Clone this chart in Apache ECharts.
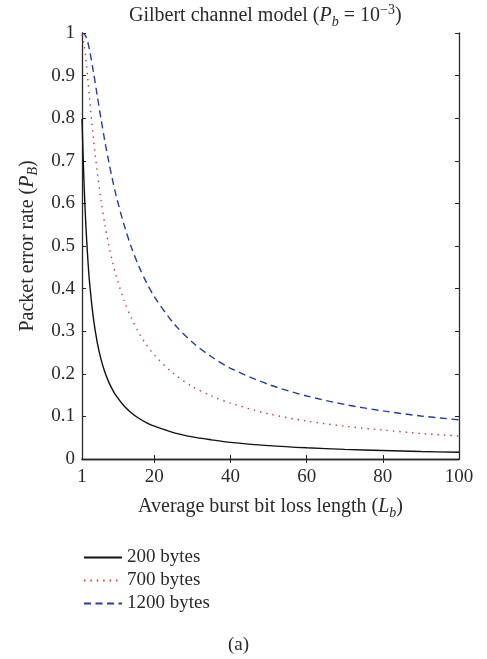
<!DOCTYPE html>
<html>
<head>
<meta charset="utf-8">
<script src="https://cdn.jsdelivr.net/npm/echarts@6/dist/echarts.min.js"></script>
<style>html,body{margin:0;padding:0;background:#fff}#c{width:487px;height:659px}</style>
</head>
<body>
<div id="c"></div>
<script>
const burstLength = [1, 1.5, 2, 2.5, 3, 4, 5, 6, 7, 8, 9, 10, 12, 14, 16, 18, 20, 25, 30, 35, 40, 50, 60, 70, 80, 90, 100];
const bytes200 = [0.798, 0.656, 0.551, 0.473, 0.413, 0.330, 0.274, 0.234, 0.204, 0.181, 0.163, 0.148, 0.125, 0.108, 0.095, 0.085, 0.077, 0.062, 0.052, 0.045, 0.039, 0.0315, 0.0263, 0.0226, 0.0198, 0.0176, 0.0159];
const bytes700 = [0.996, 0.976, 0.939, 0.894, 0.845, 0.753, 0.674, 0.607, 0.551, 0.503, 0.463, 0.429, 0.373, 0.330, 0.295, 0.267, 0.244, 0.201, 0.170, 0.148, 0.131, 0.106, 0.089, 0.077, 0.068, 0.060, 0.054];
const bytes1200 = [1.000, 0.998, 0.992, 0.979, 0.959, 0.909, 0.853, 0.798, 0.746, 0.699, 0.656, 0.617, 0.551, 0.496, 0.451, 0.413, 0.381, 0.319, 0.274, 0.240, 0.213, 0.175, 0.148, 0.128, 0.113, 0.101, 0.092];
const seriesNames = ['200 bytes', '700 bytes', '1200 bytes'];
const xTickLabels = [1, 20, 40, 60, 80, 100];
const xInnerTicks = [20, 40, 60, 80];

const FONT = 'Liberation Serif';
const TXT = '#2a2a2a';
const FS = 19;
const NFS = 20;
const rich = {
  n: { fontFamily: FONT, fontSize: NFS, color: TXT, lineHeight: 26 },
  i: { fontFamily: FONT, fontSize: NFS, color: TXT, fontStyle: 'italic', lineHeight: 26 },
  sub: { fontFamily: FONT, fontSize: 14, color: TXT, fontStyle: 'italic', verticalAlign: 'bottom', lineHeight: 26, padding: [9, 0, 0, 0] },
  sup: { fontFamily: FONT, fontSize: 14, color: TXT, verticalAlign: 'top', lineHeight: 26, padding: [0, 0, 9, 0] }
};
function pairs(ys) { return burstLength.map((x, k) => [x, ys[k]]); }

const chart = echarts.init(document.getElementById('c'), null, { renderer: 'canvas' });
const axisLine = { show: true, lineStyle: { color: '#2a2a2a', width: 1.3 } };
const tick = { show: true, inside: true, length: 4, lineStyle: { color: '#222', width: 1 } };
chart.setOption({
  animation: false,
  backgroundColor: '#fff',
  title: {
    text: '{n|Gilbert channel model (}{i|P}{sub|b}{n| = 10}{sup|−3}{n|)}',
    left: 124, top: -2,
    textStyle: { rich: rich, fontFamily: FONT, fontSize: NFS, fontWeight: 'normal', color: TXT }
  },
  grid: { left: 82, right: 28, top: 33, bottom: 200, containLabel: false },
  legend: {
    orient: 'vertical', left: 78, top: 543, itemWidth: 38, itemHeight: 14, itemGap: 4,
    itemStyle: { opacity: 0 },
    textStyle: { fontFamily: FONT, fontSize: FS, color: TXT },
    data: seriesNames
  },
  xAxis: [{
    type: 'value', min: 1, max: 100, position: 'bottom',
    name: '{n|Average burst bit loss length (}{i|L}{sub|b}{n|)}',
    nameLocation: 'middle', nameGap: 35,
    nameTextStyle: { rich: rich },
    axisLine: axisLine,
    axisTick: Object.assign({}, tick, { customValues: xInnerTicks }),
    axisLabel: { customValues: xTickLabels, fontFamily: FONT, fontSize: FS, color: TXT, margin: 9 },
    splitLine: { show: false }
  }, {
    type: 'value', min: 1, max: 100, position: 'top',
    axisLine: axisLine,
    axisTick: Object.assign({}, tick, { customValues: xInnerTicks }),
    axisLabel: { show: false }, splitLine: { show: false }
  }],
  yAxis: [{
    type: 'value', min: 0, max: 1, interval: 0.1, position: 'left',
    name: '{n|Packet error rate (}{i|P}{sub|B}{n|)}',
    nameLocation: 'middle', nameGap: 40, nameRotate: 90,
    nameTextStyle: { rich: rich },
    axisLine: axisLine, axisTick: tick,
    axisLabel: { fontFamily: FONT, fontSize: FS, color: TXT, margin: 7 },
    splitLine: { show: false }
  }, {
    type: 'value', min: 0, max: 1, interval: 0.1, position: 'right',
    axisLine: axisLine, axisTick: tick,
    axisLabel: { show: false }, splitLine: { show: false }
  }],
  series: [
    { name: seriesNames[0], type: 'line', data: pairs(bytes200), smooth: 0.3, showSymbol: false, symbol: 'none',
      lineStyle: { color: '#111', width: 1.4, type: 'solid' }, itemStyle: { color: '#111' } },
    { name: seriesNames[1], type: 'line', data: pairs(bytes700), smooth: 0.3, showSymbol: false, symbol: 'none',
      lineStyle: { color: '#b83c3c', width: 1.4, type: [1.4, 5] }, itemStyle: { color: '#b83c3c' } },
    { name: seriesNames[2], type: 'line', data: pairs(bytes1200), smooth: 0.3, showSymbol: false, symbol: 'none',
      lineStyle: { color: '#2c3a9c', width: 1.4, type: [7, 4.5] }, itemStyle: { color: '#2c3a9c' } }
  ],
  graphic: [{
    type: 'text', left: 228, top: 636,
    style: { text: '(a)', fontFamily: FONT, fontSize: FS, fill: TXT }
  }]
});
</script>
</body>
</html>
